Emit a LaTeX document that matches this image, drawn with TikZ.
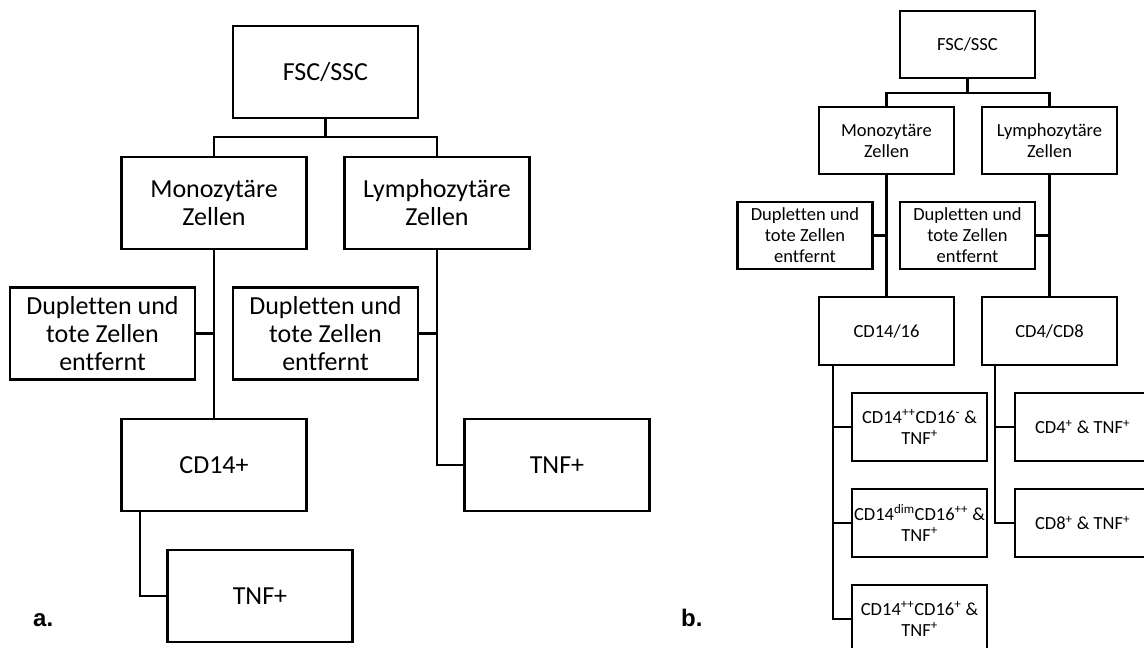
\documentclass[tikz,border=0pt]{standalone}
\usepackage{fontspec}
\setmainfont{Carlito}[Ligatures={NoCommon}]
\newfontfamily\labfont{Liberation Sans}
\begin{document}
\begin{tikzpicture}[x=1pt,y=-1pt,
  line width=2.4pt,
  boxa/.style={draw, line width=2.4pt, minimum width=185pt, minimum height=92pt, inner sep=0pt, align=center, font=\fontsize{26}{28}\selectfont},
  boxb/.style={draw, line width=2.3pt, minimum width=135pt, minimum height=67pt, inner sep=0pt, align=center, font=\fontsize{18.5}{21}\selectfont},
  lab/.style={font=\labfont\bfseries\fontsize{24}{26}\selectfont, anchor=base west, inner sep=0pt}]
\useasboundingbox (0,0) rectangle (1144,648);
% ---------- a ----------
\node[boxa] (fscA) at (325.5,72) {FSC/SSC};
\node[boxa] (monoA) at (214,203) {Monozytäre\\Zellen};
\node[boxa] (lymA) at (437,203) {Lymphozytäre\\Zellen};
\node[boxa] (dupA1) at (102.5,333.5) {Dupletten und\\tote Zellen\\entfernt};
\node[boxa] (dupA2) at (325.5,333.5) {Dupletten und\\tote Zellen\\entfernt};
\node[boxa] (cd14A) at (214,465) {CD14+};
\node[boxa] (tnfA1) at (260,596) {TNF+};
\node[boxa] (tnfA2) at (557,465) {TNF+};
\coordinate (jA) at (325.5,137);
\draw (fscA.south) -- (jA);
\draw (monoA.north) |- (jA) -| (lymA.north);
\draw (monoA.south) -- (cd14A.north);
\draw (dupA1.east) -- (monoA.south |- dupA1.east);
\draw (dupA2.east) -- (lymA.south |- dupA2.east);
\draw (lymA.south) |- (tnfA2.west);
\draw ([xshift=-74pt]cd14A.south) |- (tnfA1.west);
\node[lab] (la) at (32,626) {a.};
% ---------- b ----------
\node[boxb] (fscB) at (967.5,44.5) {FSC/SSC};
\node[boxb] (monoB) at (886.5,140.5) {Monozytäre\\Zellen};
\node[boxb] (lymB) at (1049.5,140.5) {Lymphozytäre\\Zellen};
\node[boxb] (dupB1) at (805,235.5) {Dupletten und\\tote Zellen\\entfernt};
\node[boxb] (dupB2) at (967.5,235.5) {Dupletten und\\tote Zellen\\entfernt};
\node[boxb, minimum height=68pt] (cd1416) at (886.5,331) {CD14/16};
\node[boxb, minimum height=68pt] (cd48) at (1049.5,331) {CD4/CD8};
\node[boxb, minimum height=68pt] (s1) at (919.5,427) {CD14\textsuperscript{++}CD16\textsuperscript{-} \&\\TNF\textsuperscript{+}};
\node[boxb, minimum height=68pt] (s2) at (919.5,523) {CD14\textsuperscript{dim}CD16\textsuperscript{++} \&\\TNF\textsuperscript{+}};
\node[boxb, minimum height=68pt] (s3) at (919.5,619) {CD14\textsuperscript{++}CD16\textsuperscript{+} \&\\TNF\textsuperscript{+}};
\node[boxb, minimum height=68pt] (t1) at (1082.5,427) {CD4\textsuperscript{+} \& TNF\textsuperscript{+}};
\node[boxb, minimum height=68pt] (t2) at (1082.5,523) {CD8\textsuperscript{+} \& TNF\textsuperscript{+}};
\coordinate (jB) at (967.5,93);
\draw (fscB.south) -- (jB);
\draw (monoB.north) |- (jB) -| (lymB.north);
\draw (monoB.south) -- (cd1416.north);
\draw (lymB.south) -- (cd48.north);
\draw (dupB1.east) -- (monoB.south |- dupB1.east);
\draw (dupB2.east) -- (lymB.south |- dupB2.east);
\draw ([xshift=-53.5pt]cd1416.south) |- (s3.west);
\draw ([xshift=-53.5pt]cd1416.south |- s1.west) -- (s1.west);
\draw ([xshift=-53.5pt]cd1416.south |- s2.west) -- (s2.west);
\draw ([xshift=-54.5pt]cd48.south) |- (t2.west);
\draw ([xshift=-54.5pt]cd48.south |- t1.west) -- (t1.west);
\node[lab] (lb) at (680,626) {b.};
\end{tikzpicture}
\end{document}
